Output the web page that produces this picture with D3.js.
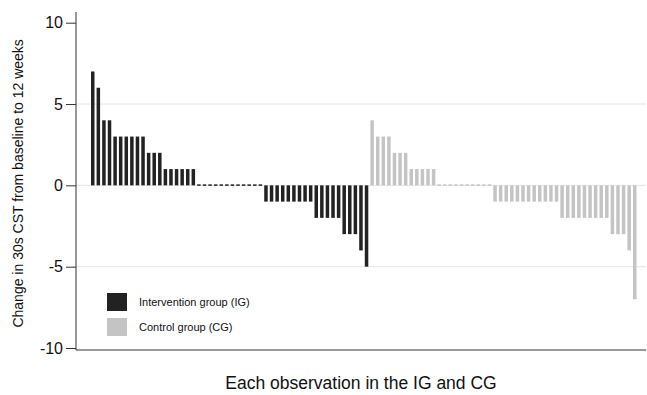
<!DOCTYPE html>
<html>
<head>
<meta charset="utf-8">
<script src="https://cdn.jsdelivr.net/npm/d3@7"></script>
<style>
  body { margin: 0; background: #fff; }
  svg text { font-family: "Liberation Sans", Arial, Helvetica, sans-serif; fill: #111; }
</style>
</head>
<body>
<div id="chart"></div>
<script>
// change in 30s CST per observation, sorted within each group
const igValues = [7, 6, 4, 4, 3, 3, 3, 3, 3, 3, 2, 2, 2, 1, 1, 1, 1, 1, 1,
    0, 0, 0, 0, 0, 0, 0, 0, 0, 0, 0, 0,
    -1, -1, -1, -1, -1, -1, -1, -1, -1, -2, -2, -2, -2, -2, -3, -3, -3, -4, -5];
const cgValues = [4, 3, 3, 3, 2, 2, 2, 1, 1, 1, 1, 1,
    0, 0, 0, 0, 0, 0, 0, 0, 0, 0,
    -1, -1, -1, -1, -1, -1, -1, -1, -1, -1, -1, -1,
    -2, -2, -2, -2, -2, -2, -2, -2, -2, -3, -3, -3, -4, -7];
const groups = ['Intervention group (IG)', 'Control group (CG)'];
const yTicks = [-10, -5, 0, 5, 10];
const gridTicks = [-5, 0, 5];

const colors = ['#222222', '#c4c4c4'];

const width = 647, height = 395;
const plot = {left: 76, right: 646, top: 12, bottom: 350};

const data = igValues.map((v, i) => ({group: 0, value: v}))
    .concat(cgValues.map(v => ({group: 1, value: v})))
    .map((d, i) => Object.assign(d, {idx: i}));

const svg = d3.select('#chart').append('svg')
    .attr('width', width)
    .attr('height', height);

const x = d3.scaleBand()
    .domain(data.map(d => d.idx))
    .range([91, 636.5])
    .paddingInner(0.374)
    .paddingOuter(0);

const y = d3.scaleLinear().domain([-10, 10]).range([348, 22.7]);

// grid
svg.append('g').selectAll('line')
    .data(gridTicks)
    .enter().append('line')
    .attr('x1', plot.left).attr('x2', plot.right)
    .attr('y1', d => y(d)).attr('y2', d => y(d))
    .attr('stroke', '#e6e6e6')
    .attr('stroke-width', 1);

// bars
svg.append('g').selectAll('rect')
    .data(data)
    .enter().append('rect')
    .attr('x', d => x(d.idx))
    .attr('width', x.bandwidth())
    .attr('y', d => d.value === 0 ? y(0) - 1 : Math.min(y(d.value), y(0)))
    .attr('height', d => d.value === 0 ? 1.5 : Math.abs(y(d.value) - y(0)))
    .attr('fill', d => colors[d.group]);

// axes
const yAxis = d3.axisLeft(y).tickValues(yTicks).tickSize(10).tickPadding(3)
    .tickFormat(d => String(d));
const ag = svg.append('g')
    .attr('transform', 'translate(' + plot.left + ',0)')
    .call(yAxis);
ag.select('.domain').remove();
ag.selectAll('.tick line').attr('stroke', '#333');
ag.selectAll('.tick text')
    .style('font-size', '16px')
    .style('font-family', '"Liberation Sans", Arial, Helvetica, sans-serif')
    .attr('fill', '#111');

svg.append('line')
    .attr('x1', plot.left).attr('x2', plot.left)
    .attr('y1', plot.top).attr('y2', plot.bottom)
    .attr('stroke', '#333');
svg.append('line')
    .attr('x1', plot.left).attr('x2', plot.right)
    .attr('y1', plot.bottom).attr('y2', plot.bottom)
    .attr('stroke', '#333');

// titles
svg.append('text')
    .attr('transform', 'translate(23,' + (y(0) - 2) + ') rotate(-90)')
    .attr('text-anchor', 'middle')
    .style('font-size', '14px')
    .text('Change in 30s CST from baseline to 12 weeks');

svg.append('text')
    .attr('x', 361)
    .attr('y', 389)
    .attr('text-anchor', 'middle')
    .style('font-size', '17.5px')
    .text('Each observation in the IG and CG');

// legend
const legend = svg.append('g').attr('transform', 'translate(107,293)');
const li = legend.selectAll('g')
    .data(groups)
    .enter().append('g')
    .attr('transform', (d, i) => 'translate(0,' + i * 25 + ')');
li.append('rect')
    .attr('width', 20).attr('height', 18)
    .attr('fill', (d, i) => colors[i]);
li.append('text')
    .attr('x', 32).attr('y', 13)
    .style('font-size', '11px')
    .text(d => d);
</script>
</body>
</html>
